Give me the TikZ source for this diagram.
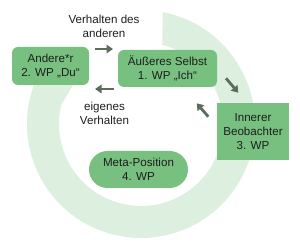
\documentclass[tikz,border=0pt]{standalone}
\usepackage{fontspec}
\setmainfont{Liberation Sans}
\usetikzlibrary{positioning,arrows.meta}
\usepackage{xcolor}
\definecolor{wpgreen}{RGB}{120,192,128}
\definecolor{ringgreen}{RGB}{221,240,223}
\definecolor{arrowgray}{RGB}{92,108,95}
\definecolor{ink}{RGB}{30,30,30}

\begin{document}
\begin{tikzpicture}[x=1pt,y=1pt,
    every node/.style={font=\fontsize{11.6}{13.8}\selectfont,text=ink,align=center,inner sep=0pt},
    wpbox/.style={fill=wpgreen,minimum width=#1},
    flowarrow/.style={arrowgray,line width=2.8pt,-{Triangle[length=6.5pt,width=8.5pt]}}]
    \useasboundingbox (0,0) rectangle (300,246);
    % circular arrow behind the boxes
    \begin{scope}[shift={(141,122)}]
      \fill[ringgreen] (79:114) arc[start angle=79, end angle=-210, radius=114]
        -- (138.2:100.6) -- (145.9:78.5) -- (166.6:82)
        arc[start angle=-193.4, end angle=75, radius=82] -- cycle;
    \end{scope}
    % positions
    \node[wpbox=77pt,minimum height=38pt,rounded corners=6pt] (andere) at (50.5,180) {Andere*r\\2. WP „Du“};
    \node[wpbox=99pt,minimum height=37pt,rounded corners=6pt] (selbst) at (167.5,177.5) {Äußeres Selbst\\1. WP „Ich“};
    \node[wpbox=72pt,minimum height=57pt] (innerer) at (253,114.5) {Innerer\\Beobachter\\3. WP};
    \node[wpbox=99pt,minimum height=37pt,rounded corners=18.5pt] (meta) at (138.5,76.5) {Meta-Position\\4. WP};
    % labels between the boxes
    \node (fremd) at (104,219.5) {Verhalten des\\anderen};
    \node (eigen) at (104.5,132.5) {eigenes\\Verhalten};
    % short arrows
    \coordinate (a1) at (95,197);   \coordinate (b1) at (113,197);
    \coordinate (a2) at (114,157);  \coordinate (b2) at (95,157);
    \coordinate (a3) at (226,167.7); \coordinate (b3) at (238.3,153.3);
    \coordinate (a4) at (208.3,129.3); \coordinate (b4) at (196.7,142.7);
    \draw[flowarrow] (a1) -- (b1);
    \draw[flowarrow] (a2) -- (b2);
    \draw[flowarrow] (a3) -- (b3);
    \draw[flowarrow] (a4) -- (b4);
  \end{tikzpicture}
\end{document}
